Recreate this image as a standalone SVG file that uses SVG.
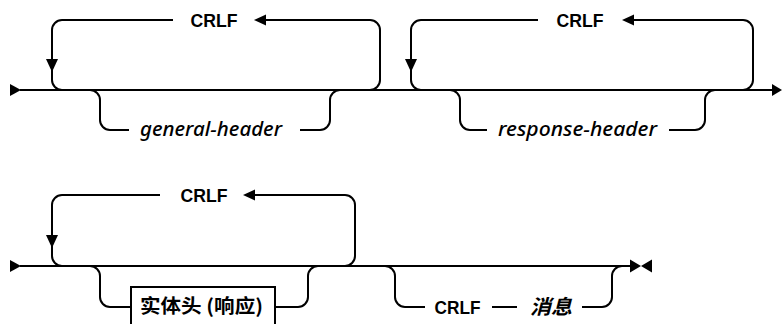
<svg xmlns="http://www.w3.org/2000/svg" width="782" height="324" viewBox="0 0 782 324">
<style>
.ln{fill:none;stroke:#000;stroke-width:2}
.ah{fill:#000;stroke:none}
.kw{font-family:"Liberation Sans",Arial,sans-serif;font-weight:bold;font-size:18px;fill:#000}
.var{font-family:"Noto Sans","DejaVu Sans",sans-serif;font-style:italic;font-weight:500;font-size:19.5px;fill:#000}
.cjk{font-family:"Noto Sans CJK SC","Noto Sans",sans-serif;fill:#000}
.box{fill:#fff;stroke:#000;stroke-width:2}
</style>
<g id="connectors">
  <!-- row 1 -->
  <path class="ln" d="M20,90 H773"/>
  <polygon class="ah" points="10,84 21,90 10,96"/>
  <polygon class="ah" points="772,84 782,90 772,96"/>
  <path class="ln" d="M173,20 H62 A10,10 0 0 0 52,30 V80 A10,10 0 0 0 62,90"/>
  <path class="ln" d="M265,20 H370 A10,10 0 0 1 380,30 V80 A10,10 0 0 1 370,90"/>
  <polygon class="ah" points="254,20 266,14.5 266,25.5"/>
  <polygon class="ah" points="46,59 58,59 52,72"/>
  <path class="ln" d="M90,90 A10,10 0 0 1 100,100 V120 A10,10 0 0 0 110,130 H129"/>
  <path class="ln" d="M300,130 H320 A10,10 0 0 0 330,120 V100 A10,10 0 0 1 340,90"/>
  <path class="ln" d="M538,20 H421 A10,10 0 0 0 411,30 V80 A10,10 0 0 0 421,90"/>
  <path class="ln" d="M633,20 H743 A10,10 0 0 1 753,30 V80 A10,10 0 0 1 743,90"/>
  <polygon class="ah" points="622,20 634,14.5 634,25.5"/>
  <polygon class="ah" points="405,59 417,59 411,72"/>
  <path class="ln" d="M450,90 A10,10 0 0 1 460,100 V120 A10,10 0 0 0 470,130 H487"/>
  <path class="ln" d="M669,130 H695 A10,10 0 0 0 705,120 V100 A10,10 0 0 1 715,90"/>
  <!-- row 2 -->
  <path class="ln" d="M20,266 H630"/>
  <polygon class="ah" points="10,260 21,266 10,272"/>
  <polygon class="ah" points="630,259.5 641,266 630,272.5"/>
  <polygon class="ah" points="652,259.5 641,266 652,272.5"/>
  <path class="ln" d="M160,195 H62 A10,10 0 0 0 52,205 V256 A10,10 0 0 0 62,266"/>
  <path class="ln" d="M255,195 H345 A10,10 0 0 1 355,205 V256 A10,10 0 0 1 345,266"/>
  <polygon class="ah" points="243,195 255,189.5 255,200.5"/>
  <polygon class="ah" points="46,235 58,235 52,248"/>
  <path class="ln" d="M90,266 A10,10 0 0 1 100,276 V297 A10,10 0 0 0 110,307 H131"/>
  <path class="ln" d="M275,307 H298 A10,10 0 0 0 308,297 V276 A10,10 0 0 1 318,266"/>
  <path class="ln" d="M385,266 A10,10 0 0 1 395,276 V297 A10,10 0 0 0 405,307 H425"/>
  <path class="ln" d="M492,307 H517"/>
  <path class="ln" d="M582,307 H602 A10,10 0 0 0 612,297 V276 A10,10 0 0 1 622,266"/>
</g>
<g id="crlf1"><text class="kw" x="214" y="26.5" text-anchor="middle" textLength="47" lengthAdjust="spacingAndGlyphs">CRLF</text></g>
<g id="general-header"><text class="var" x="140" y="136" textLength="142" lengthAdjust="spacingAndGlyphs">general-header</text></g>
<g id="crlf2"><text class="kw" x="580" y="26.5" text-anchor="middle" textLength="47" lengthAdjust="spacingAndGlyphs">CRLF</text></g>
<g id="response-header"><text class="var" x="498" y="136" textLength="159" lengthAdjust="spacingAndGlyphs">response-header</text></g>
<g id="crlf3"><text class="kw" x="204" y="201.5" text-anchor="middle" textLength="47" lengthAdjust="spacingAndGlyphs">CRLF</text></g>
<g id="entity-header">
  <rect class="box" x="131" y="287" width="144" height="48"/>
  <text class="cjk" x="140" y="313" font-size="19" font-weight="bold" textLength="123" lengthAdjust="spacingAndGlyphs">实体头 (响应)</text>
</g>
<g id="crlf4"><text class="kw" x="457.5" y="313.5" text-anchor="middle" textLength="46" lengthAdjust="spacingAndGlyphs">CRLF</text></g>
<g id="message"><text class="cjk" x="530" y="314" font-size="20" font-weight="bold" font-style="italic" textLength="42" lengthAdjust="spacingAndGlyphs">消息</text></g>
</svg>
